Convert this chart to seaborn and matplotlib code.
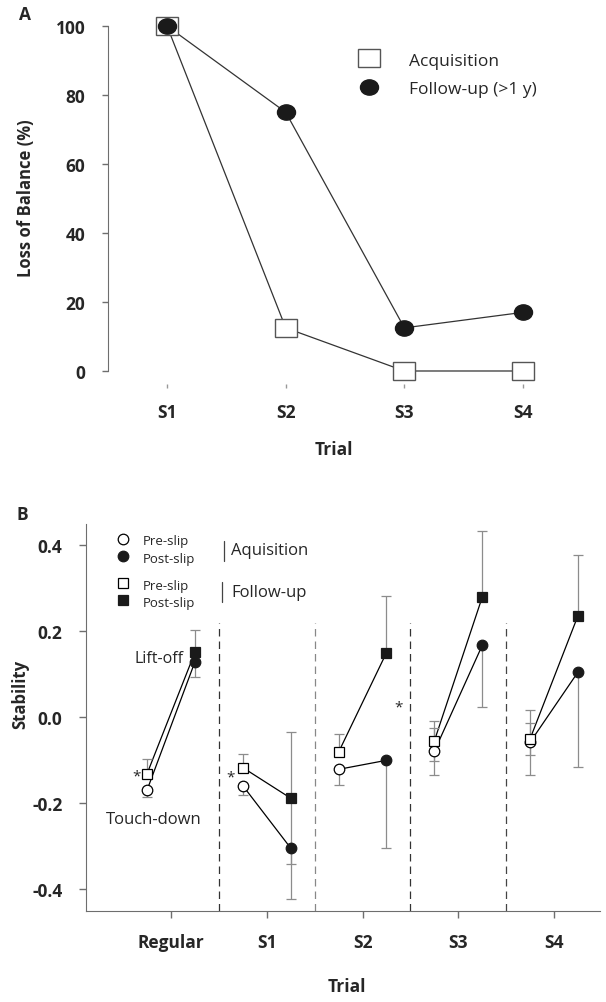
import numpy as np
import pandas as pd
import matplotlib
matplotlib.use("Agg")
import matplotlib.pyplot as plt
import seaborn as sns
from matplotlib.markers import MarkerStyle
from matplotlib.transforms import Affine2D

# Panel A: loss of balance per trial
trials_a = ["S1", "S2", "S3", "S4"]
acquisition = [100, 12.5, 0, 0]
follow_up = [100, 75, 12.5, 17]

# Panel B: stability, pre-slip (touch-down) and post-slip (lift-off)
trials_b = ["Regular", "S1", "S2", "S3", "S4"]
acq_pre = [-0.170, -0.160, -0.122, -0.080, -0.059]
acq_post = [0.128, -0.305, -0.101, 0.166, 0.104]
fu_pre = [-0.132, -0.118, -0.082, -0.056, -0.051]
fu_post = [0.150, -0.189, 0.149, 0.278, 0.235]

# error bars (lower, upper); nan = not shown
acq_pre_lo = [0.017, 0.021, 0.036, 0.054, 0.076]
acq_pre_hi = [np.nan, np.nan, np.nan, 0.054, 0.076]
fu_pre_lo = [np.nan, np.nan, np.nan, 0.047, 0.037]
fu_pre_hi = [0.033, 0.0325, 0.041, 0.046, 0.037]
acq_post_lo = [0.036, 0.119, 0.203, 0.143, 0.221]
acq_post_hi = [np.nan] * 5
fu_post_lo = [np.nan, 0.153, np.nan, np.nan, np.nan]
fu_post_hi = [0.051, 0.153, 0.131, 0.153, 0.141]

sns.set_style("ticks")
plt.rcParams["font.family"] = ["Open Sans", "DejaVu Sans"]
plt.rcParams["axes.unicode_minus"] = False

W, H = 606, 1003


def fx(x):
    return x / W


def fy(y):
    return 1 - y / H


fig = plt.figure(figsize=(W / 100, H / 100), dpi=100)
axA = fig.add_axes([fx(107.7), fy(385), (582.4 - 107.7) / W, (385 - 27) / H])
axB = fig.add_axes([fx(86), fy(911.7), (600 - 86) / W, (911.7 - 525) / H])

spine_col = "#6e6e6e"

# ---------------- Panel A ----------------
xa = np.arange(1, len(trials_a) + 1)
sns.lineplot(x=xa, y=acquisition, ax=axA, color="#333333", lw=0.9)
sns.lineplot(x=xa, y=follow_up, ax=axA, color="#333333", lw=0.9)

stretch = Affine2D().scale(1.18, 1.0)
sq_a = MarkerStyle("s", transform=stretch)
ci_a = MarkerStyle("o", transform=stretch)
axA.plot(xa, acquisition, ls="none", marker=sq_a, ms=13.2, mfc="white",
         mec="#555555", mew=1, clip_on=False, zorder=3)
axA.plot(xa, follow_up, ls="none", marker=ci_a, ms=11, mfc="#1a1a1a",
         mec="#1a1a1a", clip_on=False, zorder=4)

axA.set_xlim(0.5, 4.5)
axA.set_ylim(-3.77, 100)
axA.set_xticks(xa)
axA.set_xticklabels(trials_a)
axA.set_yticks(np.arange(0, 101, 20))
for s in ["top", "right", "bottom"]:
    axA.spines[s].set_visible(False)
axA.spines["left"].set_bounds(0, 100)
axA.spines["left"].set_color(spine_col)
axA.tick_params(axis="y", direction="out", length=4, width=1, color=spine_col,
                pad=12, labelsize=12.5)
axA.tick_params(axis="x", direction="out", length=3, width=1, color="#999999",
                pad=11, labelsize=12.5)
for lab in axA.get_xticklabels() + axA.get_yticklabels():
    lab.set_fontweight("bold")
axA.set_xlabel("")
axA.set_ylabel("")

fig.text(fx(25), fy(15), "A", fontsize=12.5, fontweight="bold", ha="center", va="center")
fig.text(fx(26), fy(198), "Loss of Balance (%)", rotation=90, fontsize=12,
         fontweight="bold", ha="center", va="center")
fig.text(fx(334), fy(450), "Trial", fontsize=12.5, fontweight="bold", ha="center", va="center")

# legend A
axA.plot([fx(369.4)], [fy(59.3)], transform=fig.transFigure, marker=sq_a, ms=13.2,
         mfc="white", mec="#555555", mew=1, clip_on=False)
axA.plot([fx(369.4)], [fy(87.5)], transform=fig.transFigure, marker=ci_a, ms=11,
         mfc="#1a1a1a", mec="#1a1a1a", clip_on=False)
fig.text(fx(409), fy(66), "Acquisition", fontsize=12.5, va="baseline")
fig.text(fx(409), fy(94), "Follow-up (>1 y)", fontsize=12.5, va="baseline")

# ---------------- Panel B ----------------
xb = np.arange(len(trials_b))
rows = []
for i, t in enumerate(trials_b):
    rows.append(dict(trial=t, x=i - 0.25, stab=acq_pre[i], group="acq"))
    rows.append(dict(trial=t, x=i + 0.25, stab=acq_post[i], group="acq"))
    rows.append(dict(trial=t, x=i - 0.25, stab=fu_pre[i], group="fu"))
    rows.append(dict(trial=t, x=i + 0.25, stab=fu_post[i], group="fu"))
df = pd.DataFrame(rows)
sns.lineplot(data=df, x="x", y="stab", hue="group", units="trial", estimator=None,
             palette={"acq": "black", "fu": "black"}, lw=0.9, sort=False,
             legend=False, ax=axB)

err_kw = dict(fmt="none", ecolor="#8c8c8c", elinewidth=0.9, capsize=3.7, capthick=0.9, zorder=2)


def one_sided(ax, x, y, lo, hi):
    # draw each side of the error bar on its own, skipping the missing ones
    x, y, lo, hi = map(np.asarray, (x, y, lo, hi))
    m = ~np.isnan(lo)
    ax.errorbar(x[m], y[m], yerr=[lo[m], np.zeros(m.sum())], **err_kw)
    m = ~np.isnan(hi)
    ax.errorbar(x[m], y[m], yerr=[np.zeros(m.sum()), hi[m]], **err_kw)


one_sided(axB, xb - 0.25, acq_pre, acq_pre_lo, acq_pre_hi)
one_sided(axB, xb - 0.25, fu_pre, fu_pre_lo, fu_pre_hi)
one_sided(axB, xb + 0.25, acq_post, acq_post_lo, acq_post_hi)
one_sided(axB, xb + 0.25, fu_post, fu_post_lo, fu_post_hi)

mk = dict(ls="none", ms=7.6, mew=0.9, zorder=4, clip_on=False)
axB.plot(xb - 0.25, acq_pre, marker="o", mfc="white", mec="black", **mk)
axB.plot(xb - 0.25, fu_pre, marker="s", mfc="white", mec="black", **mk)
axB.plot(xb + 0.25, acq_post, marker="o", mfc="#1a1a1a", mec="#1a1a1a", **mk)
axB.plot(xb + 0.25, fu_post, marker="s", mfc="#1a1a1a", mec="#1a1a1a", **mk)

# dashed separators between trials
sep_cols = ["#333333", "#888888", "#333333", "#444444"]
for i, c in enumerate(sep_cols):
    axB.vlines(i + 0.5, -0.4504, 0.217, colors=c, linestyles=(0, (6, 4)), lw=0.9, zorder=1)

axB.set_xlim(-0.888, 4.48)
axB.set_ylim(-0.4504, 0.448)
axB.set_xticks(xb)
axB.set_xticklabels(trials_b)
axB.set_yticks([-0.4, -0.2, 0.0, 0.2, 0.4])
axB.set_yticklabels(["-0.4", "-0.2", "0.0", "0.2", "0.4"])
for s in ["top", "right"]:
    axB.spines[s].set_visible(False)
for s in ["left", "bottom"]:
    axB.spines[s].set_color(spine_col)
axB.tick_params(axis="both", direction="out", length=5, width=1, color=spine_col,
                labelsize=12.5)
axB.tick_params(axis="y", pad=12)
axB.tick_params(axis="x", pad=11)
for lab in axB.get_xticklabels() + axB.get_yticklabels():
    lab.set_fontweight("bold")
axB.set_xlabel("")
axB.set_ylabel("")

fig.text(fx(22), fy(515), "B", fontsize=12.5, fontweight="bold", ha="center", va="center")
fig.text(fx(20), fy(694.5), "Stability", rotation=90, fontsize=12,
         fontweight="bold", ha="center", va="center")
fig.text(fx(347), fy(987), "Trial", fontsize=12.5, fontweight="bold", ha="center", va="center")

# annotations
fig.text(fx(183.5), fy(662.7), "Lift-off", fontsize=11.5, ha="right", va="baseline")
fig.text(fx(153.5), fy(824), "Touch-down", fontsize=12, ha="center", va="baseline")
for (sx, sy) in [(137, 776.7), (230.7, 778), (399, 708.3)]:
    fig.text(fx(sx), fy(sy), "*", fontsize=11, ha="center", va="center")

# legend B
leg_items = [("o", "white", 540, "Pre-slip", 545),
             ("o", "#1a1a1a", 557, "Post-slip", 562.7),
             ("s", "white", 584, "Pre-slip", 590),
             ("s", "#1a1a1a", 601, "Post-slip", 606.7)]
for m, fc, my, lab, ty in leg_items:
    axB.plot([fx(122.7)], [fy(my)], transform=fig.transFigure, marker=m, ms=7.6,
             mfc=fc, mec="black" if fc == "white" else fc, mew=0.9, clip_on=False)
    fig.text(fx(142.5), fy(ty), lab, fontsize=9.5, va="baseline")
axB.plot([fx(224.3), fx(224.3)], [fy(541.7), fy(561.7)], transform=fig.transFigure,
         color="#444444", lw=0.9, clip_on=False)
axB.plot([fx(222.3), fx(222.3)], [fy(583), fy(603)], transform=fig.transFigure,
         color="#444444", lw=0.9, clip_on=False)
fig.text(fx(230.7), fy(555), "Aquisition", fontsize=12, va="baseline")
fig.text(fx(231), fy(596.7), "Follow-up", fontsize=12, va="baseline")

fig.savefig("out.png", dpi=100)
